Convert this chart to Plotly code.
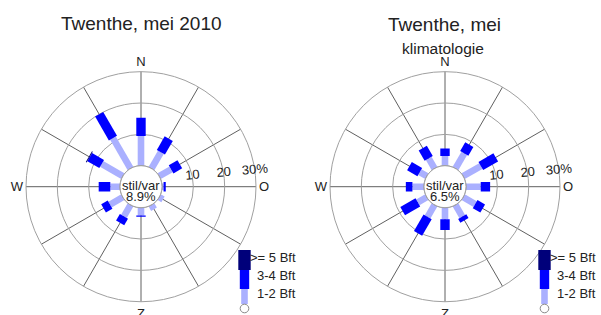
import plotly.graph_objects as go

W, H = 601, 315

# ---------------- data ----------------
directions = [0, 30, 60, 90, 120, 150, 180, 210, 240, 270, 300, 330]
dir_labels = ["N", "", "", "O", "", "", "Z", "", "", "W", "", ""]
ring_vals = [0, 10, 20, 30]
ring_text = ["", "10", "20", "30%"]

# Twenthe, mei 2010 (% per direction)
mei2010_bft12 = [9.5, 6.0, 4.4, 0.5, 1.4, 1.6, 2.5, 4.2, 4.7, 3.1, 7.8, 11.2]
mei2010_bft34 = [5.8, 5.0, 3.2, 0.7, 0.0, 0.0, 0.4, 2.4, 2.4, 3.7, 4.4, 8.8]
mei2010_bft5 = [0.0, 0.0, 0.0, 0.0, 0.0, 0.0, 0.0, 0.0, 0.0, 0.0, 0.3, 0.0]
mei2010_calm = 8.9

# Twenthe, mei klimatologie
klim_bft12 = [3.1, 5.6, 6.5, 4.7, 4.4, 4.3, 3.7, 4.4, 3.3, 3.7, 2.6, 3.7]
klim_bft34 = [2.4, 3.2, 5.5, 3.0, 2.8, 1.4, 3.4, 6.1, 5.6, 2.1, 3.8, 3.8]
klim_bft5 = [0.0] * 12
klim_calm = 6.5

classes = [">= 5 Bft", "3-4 Bft", "1-2 Bft"]

# ---------------- styling ----------------
FONT = "Liberation Sans, Arial, Helvetica, sans-serif"
TXT = "#222222"
C_LIGHT = "#aab0ff"
C_BLUE = "#0000ff"
C_NAVY = "#00007a"
W_LIGHT, W_BLUE, W_NAVY = 6.6, 9.4, 12.4


def px_x(x):
    return x / W


def px_y(y):
    return 1 - y / H


fig = go.Figure()


def add_rose(subplot, low, mid, high):
    segs = [(C_LIGHT, W_LIGHT), (C_BLUE, W_BLUE), (C_NAVY, W_NAVY)]
    layers = [low, mid, high]
    base = [0.0] * len(directions)
    for (col, wid), vals in zip(segs, layers):
        rr, tt = [], []
        for i, d in enumerate(directions):
            if vals[i] > 0:
                rr += [base[i], base[i] + vals[i], None]
                tt += [d, d, None]
            base[i] += vals[i]
        fig.add_trace(go.Scatterpolar(
            r=rr, theta=tt, mode="lines", subplot=subplot,
            line=dict(color=col, width=wid), connectgaps=False,
            hoverinfo="skip", showlegend=False))
    # inner (calm) circle
    circ_t = list(range(0, 361, 3))
    fig.add_trace(go.Scatterpolar(
        r=[0] * len(circ_t), theta=circ_t, mode="lines", subplot=subplot,
        line=dict(color="#999999", width=1), hoverinfo="skip", showlegend=False))


add_rose("polar", mei2010_bft12, mei2010_bft34, mei2010_bft5)
add_rose("polar2", klim_bft12, klim_bft34, klim_bft5)

R = 115
HOLE_PX = 21


def polar_layout(cx, cy):
    return dict(
        domain=dict(x=[px_x(cx - R), px_x(cx + R)], y=[px_y(cy + R), px_y(cy - R)]),
        hole=HOLE_PX / R,
        bgcolor="white",
        radialaxis=dict(
            range=[0, 30], tickmode="array", tickvals=ring_vals, ticktext=ring_text,
            showline=False, ticks="", angle=5, side="counterclockwise",
            gridcolor="#a0a0a0", gridwidth=1,
            tickfont=dict(family=FONT, size=13, color=TXT)),
        angularaxis=dict(
            rotation=90, direction="clockwise", tickmode="array",
            tickvals=directions, ticktext=dir_labels, ticks="",
            showline=True, linecolor="#a0a0a0", linewidth=1,
            gridcolor="#606060", gridwidth=1,
            tickfont=dict(family=FONT, size=13, color=TXT)),
    )


LC = (141, 186.7)
RC = (445, 186.7)

annotations = [
    dict(text="Twenthe, mei 2010", x=px_x(141), y=px_y(24), size=19),
    dict(text="Twenthe, mei", x=px_x(444), y=px_y(25), size=19),
    dict(text="klimatologie", x=px_x(443), y=px_y(48), size=15.5),
    dict(text="stil/var", x=px_x(LC[0]), y=px_y(185), size=13),
    dict(text=f"{mei2010_calm}%", x=px_x(LC[0]), y=px_y(196), size=13),
    dict(text="stil/var", x=px_x(RC[0]), y=px_y(185), size=13),
    dict(text=f"{klim_calm}%", x=px_x(RC[0]), y=px_y(196), size=13),
]
ann = []
for a in annotations:
    ann.append(dict(text=a["text"], x=a["x"], y=a["y"], xref="paper", yref="paper",
                    xanchor="center", yanchor="middle", showarrow=False,
                    font=dict(family=FONT, size=a["size"], color=TXT)))

shapes = []
for off in (0, 300):
    cx = 244.5 + off
    # legend bars
    for col, wid, y0, y1 in [(C_NAVY, W_NAVY, 250, 270), (C_BLUE, W_BLUE, 270, 289),
                             (C_LIGHT, W_LIGHT, 289, 304)]:
        shapes.append(dict(type="rect", xref="paper", yref="paper",
                           x0=px_x(cx - wid / 2), x1=px_x(cx + wid / 2),
                           y0=px_y(y1), y1=px_y(y0), fillcolor=col, line=dict(width=0)))
    shapes.append(dict(type="circle", xref="paper", yref="paper",
                       x0=px_x(cx - 4.3), x1=px_x(cx + 4.3),
                       y0=px_y(308.5 + 4.3), y1=px_y(308.5 - 4.3),
                       fillcolor="white", line=dict(color="#888888", width=1)))
    for txt, yy in zip(classes, [257, 275, 293]):
        ann.append(dict(text=txt, x=px_x(298 + off), y=px_y(yy), xref="paper", yref="paper",
                        xanchor="right", yanchor="middle", showarrow=False,
                        font=dict(family=FONT, size=13, color=TXT)))

fig.update_layout(
    width=W, height=H,
    margin=dict(l=0, r=0, t=0, b=0),
    paper_bgcolor="white", plot_bgcolor="white",
    showlegend=False,
    polar=polar_layout(*LC),
    polar2=polar_layout(*RC),
    annotations=ann,
    shapes=shapes,
)

fig.write_html("out.html", config={"displayModeBar": False},
               post_script="document.body.style.margin='0';document.body.style.overflow='hidden';")
